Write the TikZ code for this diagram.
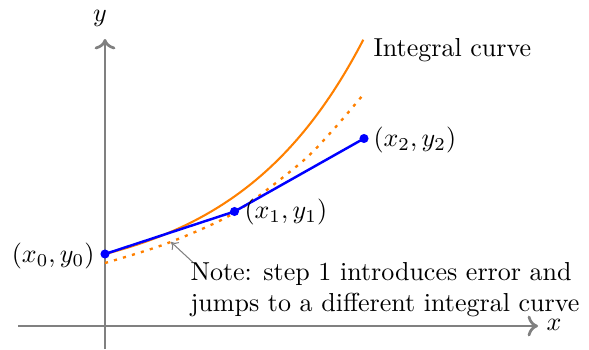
\documentclass[tikz,border=0pt]{standalone}
\usetikzlibrary{arrows.meta}
\begin{document}
\begin{tikzpicture}[x=0.3847pt,y=-0.3847pt,
  axis/.style={draw=gray,line width=1.05pt,-{To[length=4pt,width=8pt,line width=1.05pt]}},
  dotpt/.style={circle,fill=blue,inner sep=0pt,minimum size=3.5pt},
  lbl/.style={inner sep=0pt},
  notebox/.style={align=left,inner sep=0pt,anchor=north west}]
\useasboundingbox (0,0) rectangle (589,349);
% axes
\coordinate (ys) at (105,349);
\coordinate (ye) at (105,39);
\coordinate (xs) at (18,326);
\coordinate (xe) at (538,326);
\draw[axis] (ys) -- (ye);
\draw[axis] (xs) -- (xe);
\node[lbl] (ylab) at (100,18) {$y$};
\node[lbl] (xlab) at (554,325) {$x$};
% integral curve
\draw[orange,thick] plot[domain=0:258.3,samples=80] ({105+\x},{254-33*(exp(0.0078*\x)-1)}) coordinate (ic);
\node[lbl,anchor=west] (iclab) at (373,50) {Integral curve};
% dotted curve
\draw[orange,line width=0.9pt,dash pattern=on 1.2pt off 2.4pt] plot[smooth] coordinates {(105,263) (166.7,243.5) (234,213) (300,163.5) (333,130) (362.3,95.7)};
% Euler steps
\node[dotpt] (p0) at (105,254) {};
\node[dotpt] (p1) at (234.5,211.5) {};
\node[dotpt] (p2) at (364,138.5) {};
\draw[blue,line width=0.95pt] (p0.center) -- (p1.center) -- (p2.center);
\node[lbl,anchor=east] (l0) at (95,256) {$(x_0,y_0)$};
\node[lbl,anchor=west] (l1) at (244,212) {$(x_1,y_1)$};
\node[lbl,anchor=west] (l2) at (373,140) {$(x_2,y_2)$};
% note
\node[notebox] (note) at (190,262) {Note: step 1 introduces error and\\jumps to a different integral curve};
\coordinate (na) at (171,242);
\draw[gray,-{To[length=2.5pt,width=4pt]}] ([xshift=1pt]note.north west) -- (na);
\end{tikzpicture}
\end{document}
